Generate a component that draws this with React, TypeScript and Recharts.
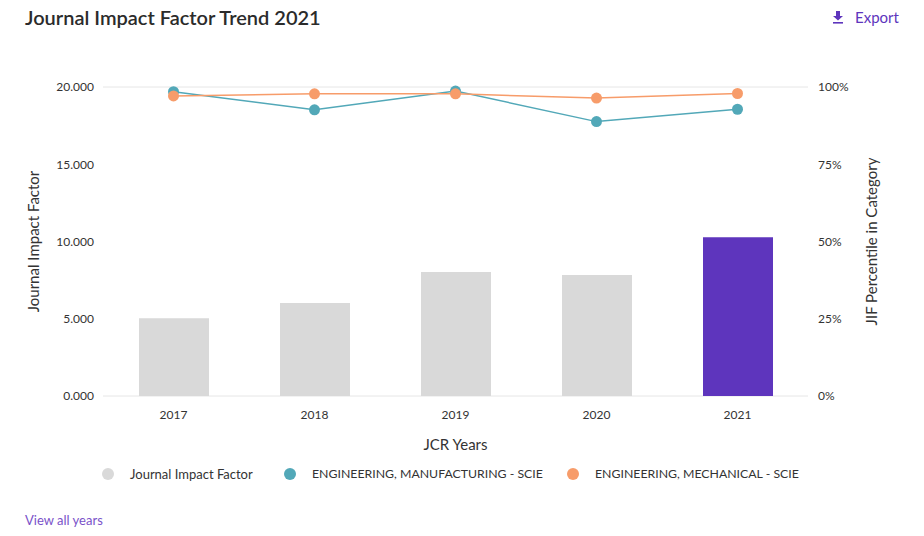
import React from 'react';
import {
  ComposedChart,
  Bar,
  Line,
  XAxis,
  YAxis,
  CartesianGrid,
  Cell,
} from 'recharts';

const years = ['2017', '2018', '2019', '2020', '2021'];
const jifValues = [5.04, 6.02, 8.03, 7.83, 10.27];
const manufacturingPct = [98.5, 92.6, 98.7, 88.8, 92.8];
const mechanicalPct = [97.1, 97.8, 97.8, 96.4, 97.9];
const leftTicks = [0, 5, 10, 15, 20];
const rightTicks = [0, 25, 50, 75, 100];
const legendLabels = [
  'Journal Impact Factor',
  'ENGINEERING, MANUFACTURING - SCIE',
  'ENGINEERING, MECHANICAL - SCIE',
];

const FONT = 'Lato, "Open Sans", sans-serif';
const GRAY = '#d9d9d9';
const PURPLE = '#5e35bd';
const TEAL = '#52a8b8';
const ORANGE = '#f79c6a';
const TEXT = '#333333';

const data = years.map((y, i) => ({
  year: y,
  jif: jifValues[i],
  manu: manufacturingPct[i],
  mech: mechanicalPct[i],
}));

const legendColors = [GRAY, TEAL, ORANGE];
const legendLefts = [102, 284, 567];
const legendSizes = [13, 12.3, 12.3];

export default function App() {
  return (
    <div
      style={{
        position: 'absolute',
        left: 0,
        top: 0,
        width: 924,
        height: 536,
        background: '#fff',
        fontFamily: FONT,
        color: TEXT,
      }}
    >
      <div
        style={{
          position: 'absolute',
          left: 25,
          top: 3,
          fontSize: 20,
          fontWeight: 600,
          color: '#2b2b2b',
          lineHeight: '28px',
        }}
      >
        Journal Impact Factor Trend 2021
      </div>
      <div
        style={{
          position: 'absolute',
          left: 832,
          top: 6,
          fontSize: 15,
          color: PURPLE,
          lineHeight: '22px',
          display: 'flex',
          alignItems: 'center',
        }}
      >
        <svg width={12} height={14} viewBox="0 0 12 14" style={{ marginRight: 11 }}>
          <path d="M4 1 H8 V6 H11 L6 10.5 L1 6 H4 Z" fill={PURPLE} />
          <rect x={1} y={12} width={10} height={1.6} fill={PURPLE} />
        </svg>
        Export
      </div>

      <div style={{ position: 'absolute', left: 0, top: 0 }}>
        <ComposedChart
          width={924}
          height={460}
          data={data}
          margin={{ top: 87, right: 0, left: 0, bottom: 4 }}
        >
          <CartesianGrid vertical={false} stroke="#e6e6e6" />
          <XAxis
            dataKey="year"
            axisLine={false}
            tickLine={false}
            tickMargin={8}
            height={60}
            tick={{ fill: TEXT, fontSize: 12, fontFamily: FONT }}
            label={{
              value: 'JCR Years',
              position: 'insideBottom',
              offset: 6,
              fill: TEXT,
              fontSize: 15,
              fontFamily: FONT,
            }}
          />
          <YAxis
            yAxisId="left"
            orientation="left"
            width={103}
            domain={[0, 20]}
            ticks={leftTicks}
            axisLine={false}
            tickLine={false}
            tickMargin={3}
            tickFormatter={(v: number) => v.toFixed(3)}
            tick={{ fill: TEXT, fontSize: 12, fontFamily: FONT }}
            label={{
              value: 'Journal Impact Factor',
              angle: -90,
              position: 'insideLeft',
              offset: 34,
              fill: TEXT,
              fontSize: 15,
              fontFamily: FONT,
              style: { textAnchor: 'middle' },
            }}
          />
          <YAxis
            yAxisId="right"
            orientation="right"
            width={116}
            domain={[0, 100]}
            ticks={rightTicks}
            axisLine={false}
            tickLine={false}
            tickMargin={4}
            tickFormatter={(v: number) => `${v}%`}
            tick={{ fill: TEXT, fontSize: 12, fontFamily: FONT }}
            label={{
              value: 'JIF Percentile in Category',
              angle: -90,
              position: 'insideRight',
              offset: 52,
              fill: TEXT,
              fontSize: 15,
              fontFamily: FONT,
              style: { textAnchor: 'middle' },
            }}
          />
          <Bar yAxisId="left" dataKey="jif" barSize={70} isAnimationActive={false}>
            {data.map((d, i) => (
              <Cell key={d.year} fill={i === data.length - 1 ? PURPLE : GRAY} />
            ))}
          </Bar>
          <Line
            yAxisId="right"
            dataKey="manu"
            stroke={TEAL}
            strokeWidth={1.5}
            dot={{ r: 5.5, fill: TEAL, stroke: TEAL, strokeWidth: 0 }}
            activeDot={false}
            isAnimationActive={false}
          />
          <Line
            yAxisId="right"
            dataKey="mech"
            stroke={ORANGE}
            strokeWidth={1.5}
            dot={{ r: 5.5, fill: ORANGE, stroke: ORANGE, strokeWidth: 0 }}
            activeDot={false}
            isAnimationActive={false}
          />
        </ComposedChart>
      </div>

      {legendLabels.map((label, i) => (
        <div
          key={label}
          style={{
            position: 'absolute',
            left: legendLefts[i],
            top: 465,
            display: 'flex',
            alignItems: 'center',
            fontSize: legendSizes[i],
            lineHeight: '18px',
            color: TEXT,
          }}
        >
          <span
            style={{
              display: 'inline-block',
              width: 12,
              height: 12,
              borderRadius: 6,
              background: legendColors[i],
              marginRight: 16,
            }}
          />
          {label}
        </div>
      ))}

      <div
        style={{
          position: 'absolute',
          left: 25,
          top: 511,
          fontSize: 13,
          color: '#7a52c9',
          lineHeight: '18px',
        }}
      >
        View all years
      </div>
    </div>
  );
}
